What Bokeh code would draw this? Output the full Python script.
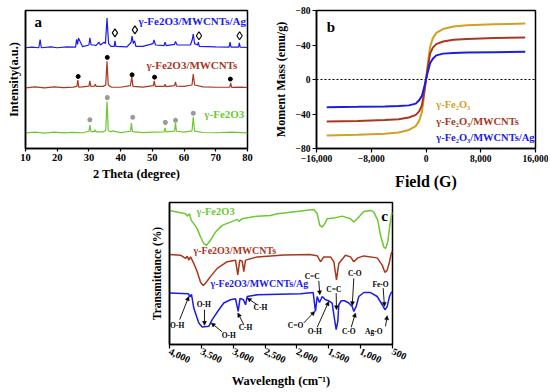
from bokeh.plotting import figure
from bokeh.layouts import column, row, Spacer
from bokeh.models import Range1d, FixedTicker, Label, Arrow, NormalHead, NumeralTickFormatter
from bokeh.core.properties import value
from bokeh.embed import file_html
from bokeh.resources import INLINE

FONT = "Liberation Serif"

# ---------------- Panel a: XRD ----------------
xrd_ag_x = [10, 12, 14.2, 14.6, 15.0, 18, 20, 23, 25.8, 26.1, 26.4, 26.7, 28, 30.0, 30.3, 30.7, 31.8, 32.2, 33.2, 33.6, 34.8, 35.2, 35.7, 36.2, 37, 38.0, 38.2, 38.5, 42, 43.3, 43.6, 44.0, 44.4, 44.8, 47, 50.2, 50.5, 51, 53.7, 54.0, 54.4, 57.0, 57.3, 57.8, 62, 62.6, 62.9, 63.3, 64.3, 64.5, 64.8, 70, 74.2, 74.5, 74.8, 77.2, 77.4, 77.7, 80]
xrd_ag_y = [73, 73.4, 73, 79, 73, 73.6, 73, 73.6, 73.5, 79, 75.5, 80, 73.8, 75, 80.2, 75, 75, 74.5, 77, 75, 77, 76, 94.5, 76, 74, 74, 78, 74, 73.6, 77, 81.5, 76, 78, 74, 74, 76, 78.7, 75, 74.5, 77, 74.5, 75.5, 77.5, 75, 75, 79, 83, 76, 75, 77, 74, 73.6, 73.5, 77, 73.5, 73.5, 76.5, 73.5, 73.2]

xrd_mw_x = [10, 13, 16, 19, 22, 25, 26.2, 26.5, 26.8, 28, 30.0, 30.3, 30.6, 31.7, 32.0, 32.3, 34.5, 35.3, 35.7, 36.1, 37, 40, 43.1, 43.5, 43.9, 47, 50.3, 50.6, 50.9, 53.7, 54.0, 54.3, 57.0, 57.3, 57.6, 60, 62.5, 62.9, 63.3, 66, 70, 74.4, 74.7, 75.0, 78, 80]
xrd_mw_y = [44, 44.6, 44, 44.7, 44.1, 44.5, 45, 49.5, 44.5, 44.6, 45.2, 49, 45, 45.2, 46.5, 45, 45, 46, 63.2, 46, 44.5, 44.4, 45.5, 51.8, 45, 44.5, 45.5, 49, 45, 45, 46.6, 44.8, 45.5, 48.2, 45.2, 45, 46, 54, 46, 44.6, 44.4, 44.5, 47.5, 44.3, 44.5, 44.2]

xrd_fe_x = [10, 13, 16, 19, 22, 25, 28, 30.0, 30.3, 30.6, 31.7, 32.0, 32.3, 34.5, 35.3, 35.7, 36.1, 37.0, 37.3, 40, 43.1, 43.4, 43.7, 47, 50, 53.7, 54.0, 54.3, 57.0, 57.3, 57.6, 60, 62.5, 62.9, 63.3, 66, 70, 75, 80]
xrd_fe_y = [11.3, 11.8, 11.2, 11.9, 11.3, 11.7, 11.4, 12.5, 17, 12.3, 12.2, 13.5, 12, 12, 13, 34, 13, 12, 12.8, 11.5, 12.5, 18.4, 12.2, 11.5, 11.8, 12, 14.9, 12, 12.6, 18.4, 12.5, 11.8, 12.8, 22.7, 12.6, 11.6, 11.4, 11.8, 11.3]

diamond_x = [38.2, 44.5, 64.7, 77.5]
diamond_y = [83.8, 86.0, 81.7, 81.7]
dot_x = [26.6, 35.8, 43.6, 50.7, 74.6]
dot_y = [52.2, 66.0, 53.4, 51.7, 50.3]
star_x = [30.3, 35.8, 43.8, 54.1, 57.3, 62.9]
star_y = [20.8, 36.9, 22.7, 18.9, 20.4, 25.5]

xrd_ticks = [10, 20, 30, 40, 50, 60, 70, 80]

# ---------------- Panel b: M-H ----------------
field = [-14500, -10000, -6000, -4000, -2500, -1500, -1000, -600, -300, 0, 300, 600, 1000, 1500, 2500, 4000, 6000, 10000, 14500]
m_fe = [-64.8, -64, -63, -61.5, -58.5, -54, -48, -38, -20, 0, 20, 38, 48, 54, 58.5, 61.5, 63, 64, 64.8]
m_mw = [-48.8, -48, -47, -46, -44, -41, -37, -30, -16, 0, 16, 30, 37, 41, 44, 46, 47, 48, 48.8]
m_ag = [-32.2, -31.7, -31.2, -30.8, -30, -28, -24, -19, -10, 0, 10, 19, 24, 28, 30, 30.8, 31.2, 31.7, 32.2]
mh_yticks = [-80, -40, 0, 40, 80]
mh_ylabels = ["\u221280", "\u221240", "0", "\u221240", "\u221280"]
mh_xticks = [-16000, -8000, 0, 8000, 16000]
mh_xlabels = ["\u221216,000", "\u22128,000", "0", "8,000", "16,000"]

# ---------------- Panel c: FTIR ----------------
ir_fe_x = [4000, 3827, 3749, 3722, 3686, 3659, 3619, 3565, 3513, 3462, 3419, 3357, 3278, 3173, 3043, 2937, 2912, 2859, 2624, 2415, 2310, 2101, 1735, 1682, 1641, 1603, 1562, 1525, 1421, 1290, 1159, 1107, 1054, 950, 845, 793, 731, 688, 636, 610, 574, 542, 516, 500]
ir_fe_y = [94.4, 92.8, 92.1, 90.4, 92.1, 87.4, 85.1, 81.6, 75.7, 71.1, 69.9, 73.4, 79.2, 83.9, 86.2, 88.1, 86.7, 88.6, 90.4, 90.9, 92.1, 93.2, 95.1, 92.1, 83.9, 82.7, 85.1, 88.6, 89, 90.4, 88.6, 86.2, 88.6, 93.7, 94.4, 93.2, 87.4, 76.9, 68.7, 67.6, 72.2, 83.9, 90.9, 93]

ir_mw_x = [4000, 3827, 3749, 3722, 3697, 3670, 3619, 3565, 3513, 3471, 3435, 3357, 3251, 3094, 2964, 2928, 2897, 2859, 2834, 2807, 2624, 2200, 1800, 1682, 1630, 1578, 1473, 1421, 1379, 1343, 1238, 1159, 1107, 1045, 950, 740, 662, 620, 583, 547, 520, 500]
ir_mw_y = [63.4, 62.9, 60.6, 62.2, 59.4, 61.7, 57.1, 51.3, 43.8, 41.5, 43.1, 47.8, 53.6, 58.3, 59.4, 49, 59.4, 58.7, 51.3, 59.4, 61.7, 63, 63.4, 62.5, 58.3, 61.7, 61.7, 58.3, 45.5, 57.1, 62.9, 61.7, 58.3, 61, 62.4, 61, 55.9, 50.8, 52.4, 58.3, 64.1, 66]

ir_ag_x = [4000, 3702, 3678, 3655, 3619, 3540, 3487, 3383, 3356, 3330, 3226, 3148, 3043, 2964, 2922, 2893, 2839, 2807, 2780, 2619, 1944, 1745, 1709, 1682, 1646, 1603, 1552, 1500, 1447, 1421, 1384, 1358, 1343, 1305, 1253, 1186, 1132, 1107, 1070, 1029, 950, 845, 740, 662, 620, 583, 547, 520, 500]
ir_ag_y = [36.2, 35.7, 33.6, 35.3, 25.7, 15.2, 12.4, 12.8, 15.2, 17.5, 24.5, 29.2, 31.5, 32.2, 23.3, 32.5, 31.5, 28, 33.8, 35, 35.7, 36.6, 23.3, 33.8, 29.6, 33.8, 31.5, 30.8, 29.2, 21, 10.5, 16.3, 28, 30.8, 30.8, 29.2, 26.8, 23.3, 26.8, 33.8, 36.6, 36.6, 33.8, 28, 24.5, 26.8, 33.8, 36.6, 37]

ir_ticks = [4000, 3500, 3000, 2500, 2000, 1500, 1000, 500]

ann_text = ["O-H", "O-H", "O-H", "C-H", "C-H", "C=C", "C=C", "C-O", "Fe-O", "C=O", "O-H", "C-O", "Ag-O"]
ann_x = [3880, 3462, 3069, 2572, 2807, 1760, 1421, 1092, 688, 2022, 1720, 1186, 793]
ann_y = [13.5, 28.5, 6.5, 26.1, 11.7, 47.8, 39.0, 49.7, 42.4, 13.3, 8.9, 9.3, 9.3]
arr_x0 = [3840, 3451, 3173, 2624, 2834, 1657, 1384, 1107, 646, 1892, 1682, 1148, 610]
arr_y0 = [17.5, 24.5, 8.9, 28.0, 14.0, 44.8, 36.2, 46.6, 39.7, 15.2, 12.1, 12.1, 12.8]
arr_x1 = [3697, 3451, 3346, 2780, 2928, 1641, 1379, 1132, 626, 1720, 1500, 1081, 583]
arr_y1 = [33.8, 13.5, 15.2, 32.7, 22.2, 35.0, 24.5, 27.3, 26.8, 23.3, 30.3, 22.2, 20.3]

BLUE = "#1c1ce6"
RED = "#a8381f"
GREEN = "#6cc832"
GOLD = "#d2a023"


def style(p, xlabel, ylabel, xl_size, yl_size, tick_size):
    p.xgrid.visible = False
    p.ygrid.visible = False
    p.outline_line_color = "black"
    p.outline_line_width = 1.5
    p.background_fill_color = "white"
    p.border_fill_color = "white"
    for ax in (p.xaxis[0], p.yaxis[0]):
        ax.axis_line_width = 1.5
        ax.axis_line_color = "black"
        ax.major_tick_line_width = 1.2
        ax.major_tick_in = 0
        ax.major_tick_out = 3
        ax.minor_tick_line_color = None
        ax.major_label_text_font = FONT
        ax.major_label_text_font_style = "bold"
        ax.major_label_text_font_size = tick_size
        ax.major_label_text_color = "black"
        ax.axis_label_text_font = FONT
        ax.axis_label_text_font_style = "bold"
        ax.axis_label_text_color = "black"
        ax.major_label_standoff = 2
    p.xaxis[0].axis_label = xlabel
    p.yaxis[0].axis_label = ylabel
    p.xaxis[0].axis_label_text_font_size = xl_size
    p.yaxis[0].axis_label_text_font_size = yl_size


def add_text(p, x, y, t, color, size, align="left", baseline="middle"):
    p.text(x=[x], y=[y], text=[t], text_color=color, text_font=value(FONT),
           text_font_style="bold", text_font_size=size, text_align=align,
           text_baseline=baseline)


# ----- figure a -----
pa = figure(width=270, height=192, output_backend="svg", toolbar_location=None,
            x_range=Range1d(10, 80), y_range=Range1d(0, 100),
            min_border_left=25, min_border_right=23, min_border_top=10, min_border_bottom=41)
style(pa, "2 Theta (degree)", "Intensity(a.u.)", "12.5px", "12.5px", "10.5px")
pa.xaxis[0].ticker = FixedTicker(ticks=xrd_ticks)
pa.xaxis[0].axis_label_standoff = 3
pa.yaxis[0].ticker = FixedTicker(ticks=[])
pa.yaxis[0].major_tick_out = 0
pa.yaxis[0].major_label_standoff = 0
pa.yaxis[0].axis_label_standoff = 5

pa.line(xrd_ag_x, xrd_ag_y, line_color=BLUE, line_width=1.2)
pa.line(xrd_mw_x, xrd_mw_y, line_color=RED, line_width=1.2)
pa.line(xrd_fe_x, xrd_fe_y, line_color=GREEN, line_width=1.2)
pa.scatter(diamond_x, diamond_y, marker="diamond", size=8, fill_color="white",
           line_color="black", line_width=1.1)
pa.scatter(dot_x, dot_y, marker="circle", size=4, fill_color="black", line_color="black")
pa.scatter(star_x, star_y, marker="asterisk", size=5, line_color="#9a9a9a", line_width=1.5)
add_text(pa, 79.5, 92.4, "γ-Fe2O3/MWCNTs/Ag", BLUE, "11px", align="right")
add_text(pa, 76.8, 60.5, "γ-Fe2O3/MWCNTs", RED, "11px", align="right")
add_text(pa, 79.0, 24.8, "γ-Fe2O3", GREEN, "11px", align="right")
add_text(pa, 14.0, 91.7, "a", "black", "15px", align="center")

# ----- figure b -----
pb = figure(width=278, height=192, output_backend="svg", toolbar_location=None,
            x_range=Range1d(-16000, 16000), y_range=Range1d(-80, 80),
            min_border_left=42, min_border_right=13, min_border_top=10, min_border_bottom=41)
style(pb, "Field (G)", "Moment Mass (emu/g)", "16px", "12px", "9.5px")
pb.xaxis[0].ticker = FixedTicker(ticks=mh_xticks)
pb.xaxis[0].major_label_overrides = dict(zip(mh_xticks, mh_xlabels))
pb.yaxis[0].ticker = FixedTicker(ticks=mh_yticks)
pb.yaxis[0].major_label_overrides = dict(zip(mh_yticks, mh_ylabels))
pb.xaxis[0].major_tick_out = 4
pb.yaxis[0].major_tick_out = 4
pb.xaxis[0].axis_label_standoff = 8
pb.yaxis[0].axis_label_standoff = 5

pb.line([-16000, 16000], [0, 0], line_color="black", line_dash="2 2", line_width=1)
pb.line(field, m_fe, line_color=GOLD, line_width=2)
pb.line(field, m_mw, line_color=RED, line_width=2)
pb.line(field, m_ag, line_color=BLUE, line_width=2)
add_text(pb, 1500, -28.6, "γ-Fe₂O₃", GOLD, "10.5px")
add_text(pb, 1500, -48.3, "γ-Fe₂O₃/MWCNTs", RED, "10.5px")
add_text(pb, 1500, -67.8, "γ-Fe₂O₃/MWCNTs/Ag", BLUE, "10.5px")
add_text(pb, -13890, 61, "b", "black", "15px", align="center")

# ----- figure c -----
pc = figure(width=280, height=198, output_backend="svg", toolbar_location=None,
            x_range=Range1d(4000, 500), y_range=Range1d(0, 100),
            min_border_left=29, min_border_right=28, min_border_top=10, min_border_bottom=45)
style(pc, "Wavelength (cm⁻¹)", "Transmittance (%)", "12.5px", "11.5px", "10px")
pc.xaxis[0].ticker = FixedTicker(ticks=ir_ticks)
pc.xaxis[0].formatter = NumeralTickFormatter(format="0,0")
pc.xaxis[0].major_label_orientation = -0.45
pc.xaxis[0].major_tick_out = 4
pc.xaxis[0].axis_label_standoff = 4
pc.yaxis[0].ticker = FixedTicker(ticks=[])
pc.yaxis[0].major_tick_out = 0
pc.yaxis[0].major_label_standoff = 0
pc.yaxis[0].axis_label_standoff = 7

pc.line(ir_fe_x, ir_fe_y, line_color=GREEN, line_width=1.5)
pc.line(ir_mw_x, ir_mw_y, line_color=RED, line_width=1.5)
pc.line(ir_ag_x, ir_ag_y, line_color=BLUE, line_width=1.5)
add_text(pc, 3576, 93.7, "γ-Fe2O3", GREEN, "10.5px")
add_text(pc, 3623, 66.4, "γ-Fe2O3/MWCNTs", RED, "10px")
add_text(pc, 3356, 43.1, "γ-Fe2O3/MWCNTs/Ag", BLUE, "10px")
add_text(pc, 626, 90.2, "c", "black", "15px", align="center")

for t, x, y in zip(ann_text, ann_x, ann_y):
    pc.add_layout(Label(x=x, y=y, text=t, text_font=FONT, text_font_style="bold",
                        text_font_size="7.5px", text_color="black", text_align="center",
                        text_baseline="middle"))
for x0, y0, x1, y1 in zip(arr_x0, arr_y0, arr_x1, arr_y1):
    pc.add_layout(Arrow(end=NormalHead(size=4, fill_color="black", line_color="black", line_width=0.5),
                        x_start=x0, y_start=y0, x_end=x1, y_end=y1,
                        line_color="black", line_width=0.9))

layout = column(row(pa, pb), row(Spacer(width=140, height=20), pc))

with open("out.html", "w") as f:
    f.write(file_html(layout, INLINE))
